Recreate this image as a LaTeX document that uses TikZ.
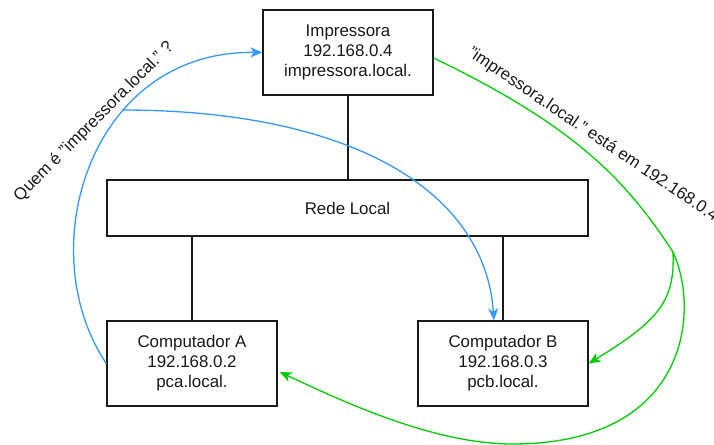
\documentclass[tikz,border=0pt]{standalone}
\usepackage{fontspec}
\setmainfont{Liberation Sans}
\usetikzlibrary{arrows.meta,calc}
\definecolor{askblue}{HTML}{3399FF}
\definecolor{replygreen}{HTML}{00CC00}
\definecolor{ink}{HTML}{1A1A1A}
\tikzset{
  hostbox/.style={draw=ink, line width=1.3pt, fill=white, inner sep=0pt,
    minimum width=170pt, minimum height=85pt, align=center, text=ink,
    font=\fontsize{16.9}{20}\selectfont},
  netbox/.style={hostbox, minimum width=481pt, minimum height=56pt},
  wire/.style={draw=ink, line width=1.3pt},
  tip/.style={-{Stealth[length=12pt,width=10pt,inset=3.5pt]}},
  query/.style={draw=askblue, line width=1.3pt},
  answer/.style={draw=replygreen, line width=1.3pt},
  msg/.style={text=ink, inner sep=0pt, font=\fontsize{16.9}{20}\selectfont}
}
\begin{document}
\begin{tikzpicture}[x=1pt,y=-1pt]
\useasboundingbox (0,0) rectangle (714,444);

% hosts and the shared network
\node[hostbox] (imp) at (348,52.5) {Impressora\\192.168.0.4\\impressora.local.};
\node[netbox]  (net) at (347.5,208) {Rede Local};
\node[hostbox] (pca) at (192,363.5) {Computador A\\192.168.0.2\\pca.local.};
\node[hostbox] (pcb) at (503,363.5) {Computador B\\192.168.0.3\\pcb.local.};

% physical links
\draw[wire] (imp.south) -- (imp.south |- net.north);
\draw[wire] (net.south -| pca.north) -- (pca.north);
\draw[wire] (net.south -| pcb.north) -- (pcb.north);

% multicast query from A
\coordinate (qsplit) at (122,110);
\coordinate (qb) at ($(pcb.north)+(-9,0)$);
\draw[query,tip] (pca.west) .. controls (30,250) and (90,50) .. (imp.west);
\draw[query,tip] (qsplit) .. controls (350,110) and (485,190) .. (qb);

% multicast answer from the printer
\coordinate (astart) at ($(imp.east)+(0,5.5)$);
\coordinate (asplit) at (673,252);
\coordinate (abottom) at (510,444);
\coordinate (aa) at ($(pca.east)+(2,8.5)$);
\draw[answer] (astart) .. controls (575,126) and (626,180) .. (asplit);
\draw[answer,tip] (asplit) .. controls (675,300) and (660,320) .. (pcb.east);
\draw[answer,tip] (asplit) .. controls (700,310) and (690,445) .. (abottom)
  .. controls (430,443) and (340,400) .. (aa);

% message labels
\node[msg, rotate=45] (qlabel) at (94,122) {Quem é "impressora.local." ?};
\node[msg, rotate=-34] (alabel) at (593,135) {"impressora.local." está em 192.168.0.4};
\end{tikzpicture}
\end{document}
